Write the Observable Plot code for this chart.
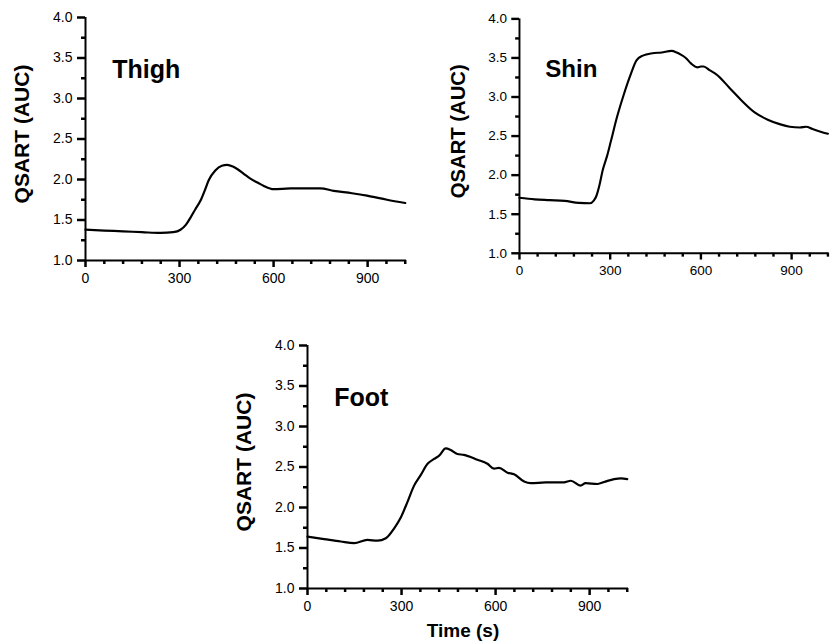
<!DOCTYPE html>
<html>
<head>
<meta charset="utf-8">
<script src="https://cdn.jsdelivr.net/npm/d3@7"></script>
<script src="https://cdn.jsdelivr.net/npm/@observablehq/plot@0.6"></script>
<style>
  html, body { margin: 0; padding: 0; background: #fff; overflow: hidden; }
  #wrap { position: relative; width: 837px; height: 644px; overflow: hidden; }
  .panel { position: absolute; }
  svg { overflow: visible; }
</style>
</head>
<body>
<div id="wrap"></div>
<script>
// ---- Data ----
const thighTime  = [0,60,120,180,240,280,303,320,335,350,367,380,393,414,435,452,470,484,505,526,550,569,600,654,700,749,792,850,898,962,1020];
const thighValue = [1.38,1.37,1.36,1.35,1.34,1.35,1.38,1.44,1.53,1.63,1.74,1.86,1.99,2.11,2.17,2.18,2.16,2.13,2.07,2.01,1.96,1.92,1.88,1.89,1.89,1.89,1.86,1.83,1.80,1.75,1.71];

const shinTime  = [0,50,100,150,196,233,245,254,265,275,290,302,323,344,366,387,408,440,470,503,520,535,550,567,588,600,609,630,651,694,736,779,821,863,894,927,948,969,1001,1020];
const shinValue = [1.71,1.69,1.68,1.67,1.645,1.64,1.67,1.73,1.88,2.06,2.25,2.43,2.75,3.02,3.27,3.47,3.53,3.56,3.57,3.59,3.57,3.54,3.50,3.43,3.38,3.39,3.39,3.34,3.29,3.12,2.95,2.80,2.71,2.65,2.62,2.61,2.62,2.59,2.55,2.53];

const footTime  = [0,53,106,149,191,223,250,276,298,319,340,361,383,404,420,441,457,478,499,542,574,595,611,638,659,691,712,760,818,840,871,887,925,950,978,1000,1020];
const footValue = [1.64,1.61,1.58,1.56,1.60,1.59,1.62,1.74,1.88,2.07,2.27,2.40,2.54,2.60,2.64,2.73,2.71,2.66,2.65,2.59,2.54,2.48,2.49,2.43,2.41,2.32,2.30,2.31,2.31,2.33,2.27,2.30,2.29,2.32,2.35,2.36,2.35];

const panelNames = ["Thigh", "Shin", "Foot"];
const xMajorTicks = [0, 300, 600, 900];
const xMinorTicks = [60, 120, 180, 240, 360, 420, 480, 540, 660, 720, 780, 840, 960, 1020];
const yMajorTicks = [1.0, 1.5, 2.0, 2.5, 3.0, 3.5, 4.0];
const yMinorTicks = [1.25, 1.75, 2.25, 2.75, 3.25, 3.75];
const yLabel = "QSART (AUC)";
const xLabel = "Time (s)";

const FONT = 'Arial, "Liberation Sans", Helvetica, sans-serif';
const W = 415, ML = 85, MR = 9, MT = 17, FH = 243;
const X_MAX = 1024, Y_MIN = 1, Y_MAX = 4;

function panel(name, times, values, opts) {
  const data = times.map((t, i) => ({t, v: values[i]}));
  const marks = [
    // y ticks (outward, left) and labels
    Plot.axisY(yMinorTicks, {anchor: "left", tickSize: 4, tickPadding: 0, text: null, label: null, stroke: "#000", strokeWidth: 2.5}),
    Plot.axisY(yMajorTicks, {anchor: "left", tickSize: 8, tickPadding: 5, tickFormat: d3.format(".1f"), label: null, fontSize: 14, fill: "#000", stroke: "#000", strokeWidth: 2.5}),
    // x ticks (outward, below) and labels
    Plot.axisX(xMinorTicks, {anchor: "bottom", tickSize: 4, tickPadding: 0, text: null, label: null, stroke: "#000", strokeWidth: 2.5}),
    Plot.axisX(xMajorTicks, {anchor: "bottom", tickSize: 7, tickPadding: 6, label: null, fontSize: 14, fill: "#000", stroke: "#000", strokeWidth: 2.5}),
    // axis lines
    Plot.ruleX([0], {y1: Y_MIN, y2: Y_MAX, stroke: "#000", strokeWidth: 2}),
    Plot.ruleY([Y_MIN], {x1: 0, x2: X_MAX, stroke: "#000", strokeWidth: 2}),
    // data
    Plot.lineY(data, {x: "t", y: "v", stroke: "#000", strokeWidth: 2.2, curve: "monotone-x"}),
    // titles
    Plot.text([name], {x: 85, y: 3.35, text: d => d, textAnchor: "start", lineAnchor: "middle", fontSize: 25, fontWeight: "bold", fill: "#000"}),
    Plot.text([yLabel], {frameAnchor: "left", text: d => d, rotate: -90, textAnchor: "middle", lineAnchor: "middle", dx: -63, dy: -5, fontSize: 21, fontWeight: "bold", fill: "#000"})
  ];
  if (opts.xLabel) {
    marks.push(Plot.text([opts.xLabel], {frameAnchor: "bottom", text: d => d, lineAnchor: "middle", textAnchor: "middle", dy: 42, dx: -5, fontSize: 19, fontWeight: "bold", fill: "#000"}));
  }
  const chart = Plot.plot({
    width: W,
    height: opts.height,
    marginLeft: ML,
    marginRight: MR,
    marginTop: MT,
    marginBottom: opts.height - MT - FH,
    style: {fontFamily: FONT, color: "#000", background: "transparent"},
    x: {domain: [0, X_MAX]},
    y: {domain: [Y_MIN, Y_MAX]},
    marks
  });
  const div = document.createElement("div");
  div.className = "panel";
  div.style.left = opts.left + "px";
  div.style.top = opts.top + "px";
  div.appendChild(chart);
  document.getElementById("wrap").appendChild(div);
}

panel(panelNames[0], thighTime, thighValue, {left: 0, top: 0, height: 290});
panel(panelNames[1], shinTime, shinValue, {left: 436.7, top: 2, height: 290});
panel(panelNames[2], footTime, footValue, {left: 221.7, top: 328, height: 316, xLabel});
</script>
</body>
</html>
